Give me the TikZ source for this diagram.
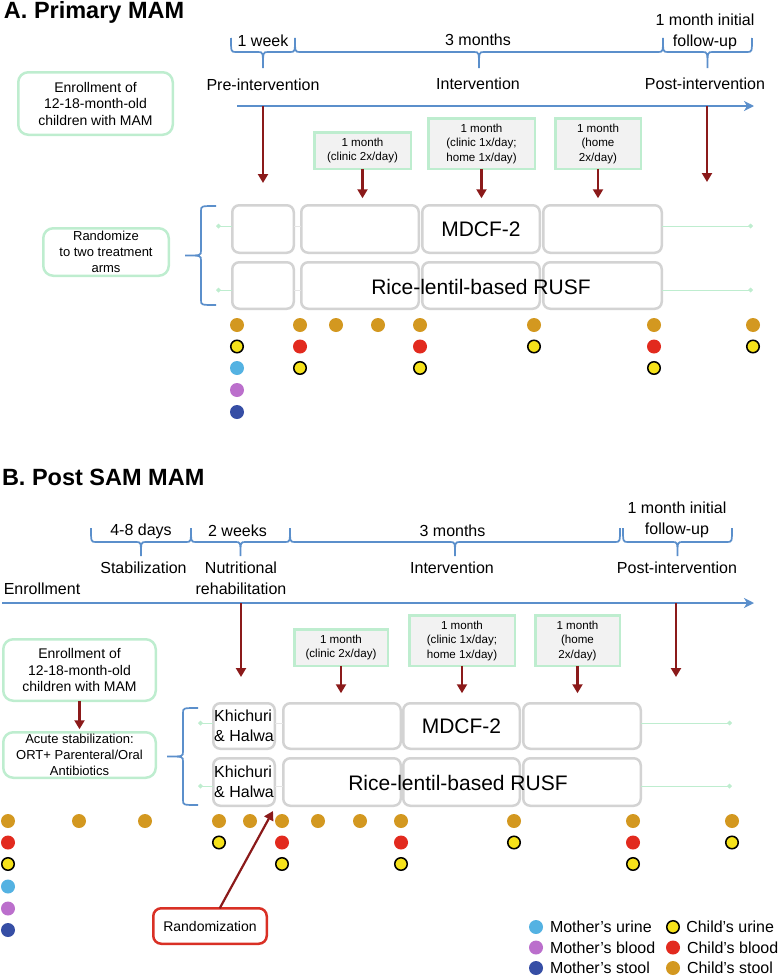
\documentclass[tikz,border=0pt]{standalone}
\usepackage{fontspec}
\setmainfont{Liberation Sans}
\usepackage{xcolor}
\usepackage{tikz}
\usetikzlibrary{shapes.geometric, arrows.meta, positioning}

\definecolor{lineblue}{RGB}{91,143,203}
\definecolor{darkred}{RGB}{139,26,26}
\definecolor{boxgreen}{RGB}{190,237,207}
\definecolor{boxgray}{RGB}{242,242,242}
\definecolor{armgray}{RGB}{211,211,211}
\definecolor{randred}{RGB}{217,48,37}
\definecolor{stoolgold}{RGB}{211,152,32}
\definecolor{bloodred}{RGB}{226,42,30}
\definecolor{urineyellow}{RGB}{246,226,26}
\definecolor{murineblue}{RGB}{84,178,226}
\definecolor{mbloodpurple}{RGB}{187,111,204}
\definecolor{mstoolblue}{RGB}{54,78,165}

% brace over a phase: left x, right x, top y, spike length
\newcommand{\timebrace}[4]{%
	\draw [phasebrace] (#1,#3) .. controls ({#1},{#3+14}) .. ({#1+5},{#3+14})
		-- ({(#1+#2)/2-5},{#3+14}) .. controls ({(#1+#2)/2},{#3+14}) .. ({(#1+#2)/2},{#3+14+#4})
		.. controls ({(#1+#2)/2},{#3+14}) .. ({(#1+#2)/2+5},{#3+14})
		-- ({#2-5},{#3+14}) .. controls ({#2},{#3+14}) .. (#2,#3);}
% brace left of the two arms: tip x, top y, bottom y, spike length
\newcommand{\armsbrace}[4]{%
	\draw [phasebrace] (#1,#2) .. controls ({#1-15},{#2}) .. ({#1-15},{#2+5})
		-- ({#1-15},{(#2+#3)/2-5}) .. controls ({#1-15},{(#2+#3)/2}) .. ({#1-15-#4},{(#2+#3)/2})
		.. controls ({#1-15},{(#2+#3)/2}) .. ({#1-15},{(#2+#3)/2+5})
		-- ({#1-15},{#3-5}) .. controls ({#1-15},{#3}) .. (#1,#3);}

\begin{document}
\begin{tikzpicture}[
			x=1pt, y=-1pt,
			every node/.style={inner sep=0pt, outer sep=0pt},
			sectiontitle/.style={anchor=base west, font=\fontsize{23.5}{28}\selectfont\bfseries},
			phase/.style={align=center, font=\fontsize{16}{21}\selectfont},
			infobox/.style={draw=boxgreen, line width=2.5pt, rounded corners=10pt, align=center, font=\fontsize{14}{16.5}\selectfont},
			monthbox/.style={draw=boxgreen, fill=boxgray, line width=2.5pt, align=center, font=\fontsize{11.6}{14.5}\selectfont},
			armbox/.style={draw=armgray, line width=2.5pt, rounded corners=7pt, font=\fontsize{21}{24}\selectfont},
			foodbox/.style={armbox, align=left, font=\fontsize{16}{20}\selectfont},
			armtext/.style={font=\fontsize{21}{24}\selectfont},
			randbox/.style={draw=randred, line width=2.5pt, rounded corners=8pt, font=\fontsize{14}{16}\selectfont},
			legendtext/.style={right=7pt of #1, anchor=west, font=\fontsize{16}{18}\selectfont},
			timeline/.style={draw=lineblue, line width=2.5pt, -{Stealth[length=10pt, width=10pt, inset=3pt]}},
			phasebrace/.style={draw=lineblue, line width=1.7pt},
			arrow/.style={draw=darkred, line width=2.2pt, -{Triangle[length=9pt, width=10pt]}},
			armline/.style={draw=boxgreen, line width=1pt, -{Diamond[length=5pt, width=5pt]}},
			gapline/.style={draw=armgray!60, line width=1pt},
			sampledot/.style={circle, minimum size=14pt},
			cstool/.style={sampledot, fill=stoolgold},
			cblood/.style={sampledot, fill=bloodred},
			curine/.style={sampledot, fill=urineyellow, draw=black, line width=1.5pt, minimum size=12.5pt},
			murine/.style={sampledot, fill=murineblue},
			mblood/.style={sampledot, fill=mbloodpurple},
			mstool/.style={sampledot, fill=mstoolblue}
			]
			\useasboundingbox (0,0) rectangle (780,977);
			
			% ---------------- A. Primary MAM ----------------
			% Nodes
			\node (titleA) [sectiontitle] at (4,18) {A. Primary MAM};
			\node (weekA) [phase] at (263,41) {1 week};
			\node (monthsA) [phase] at (478,40) {3 months};
			\node (followA) [phase] at (705,32) {1 month initial\\follow-up};
			\node (preA) [phase] at (263,84.5) {Pre-intervention};
			\node (interA) [phase] at (478,83.5) {Intervention};
			\node (postA) [phase] at (705,84) {Post-intervention};
			\node (enrollA) [infobox, minimum width=154.5, minimum height=62.5] at (95.5,103.5) {Enrollment of\\12-18-month-old\\children with MAM};
			\node (randomA) [infobox, minimum width=125.5, minimum height=47.5, font=\fontsize{13}{16}\selectfont] at (106,252) {Randomize\\to two treatment\\arms};
			\node (ma1) [monthbox, minimum width=96.5, minimum height=36.5] at (362.5,150.5) {1 month\\(clinic 2x/day)};
			\node (ma2) [monthbox, minimum width=106.5, minimum height=50.5] at (481.5,143.5) {1 month\\(clinic 1x/day;\\home 1x/day)};
			\node (ma3) [monthbox, minimum width=85.5, minimum height=50.5] at (598,143.5) {1 month\\(home\\2x/day)};
			\node (a11) [armbox, minimum width=61.5, minimum height=47.5] at (263,229) {};
			\node (a12) [armbox, minimum width=117.5, minimum height=47.5] at (360,229) {};
			\node (a13) [armbox, minimum width=117.5, minimum height=47.5] at (481,229) {MDCF-2};
			\node (a14) [armbox, minimum width=118.5, minimum height=47.5] at (602.5,229) {};
			\node (a21) [armbox, minimum width=61.5, minimum height=46.5] at (263,285.5) {};
			\node (a22) [armbox, minimum width=117.5, minimum height=46.5] at (360,285.5) {};
			\node (a23) [armbox, minimum width=117.5, minimum height=46.5] at (481,285.5) {};
			\node (a24) [armbox, minimum width=118.5, minimum height=46.5] at (602.5,285.5) {};
			\node (rusfA) [armtext] at (481,287) {Rice-lentil-based RUSF};
			\coordinate (tpreA) at (263,106);
			\coordinate (tpostA) at (707,106);
			\coordinate (la1) at (216,226);
			\coordinate (la2) at (216,290);
			\coordinate (ra1) at (753,226);
			\coordinate (ra2) at (753,290);
			
			% Samples
			\node (sa1) [cstool] at (237,325) {}; \node (sa2) [curine] at (237,346.5) {}; \node (sa3) [murine] at (237,368) {};
			\node (sa4) [mblood] at (237,390) {}; \node (sa5) [mstool] at (237,412) {};
			\node (sa6) [cstool] at (300,325) {}; \node (sa7) [cblood] at (300,346.5) {}; \node (sa8) [curine] at (300,368) {};
			\node (sa9) [cstool] at (336,325) {}; \node (sa10) [cstool] at (378,325) {};
			\node (sa11) [cstool] at (420,325) {}; \node (sa12) [cblood] at (420,346.5) {}; \node (sa13) [curine] at (420,368) {};
			\node (sa14) [cstool] at (534,325) {}; \node (sa15) [curine] at (534,346.5) {};
			\node (sa16) [cstool] at (654,325) {}; \node (sa17) [cblood] at (654,346.5) {}; \node (sa18) [curine] at (654,368) {};
			\node (sa19) [cstool] at (753,325) {}; \node (sa20) [curine] at (753,346.5) {};
			
			% Connections
			\timebrace{231}{295}{38}{16}
			\timebrace{295}{663}{38}{16}
			\timebrace{663}{752}{38}{16}
			\draw [timeline] (237,106) -- (754,106);
			\draw [arrow] (tpreA) -- (263,183);
			\draw [arrow] (tpostA) -- (707,182);
			\draw [arrow, shorten >=7pt] (ma1.south) -- (ma1.south |- a12.north);
			\draw [arrow, shorten >=7pt] (ma2.south) -- (ma2.south |- a13.north);
			\draw [arrow, shorten >=7pt] (ma3.south) -- (ma3.south |- a14.north);
			\armsbrace{216}{206}{305}{16}
			\draw [armline] (a11.west |- la1) -- (la1);
			\draw [armline] (a21.west |- la2) -- (la2);
			\draw [armline] (a14.east |- ra1) -- (ra1);
			\draw [armline] (a24.east |- ra2) -- (ra2);
			\draw [gapline] (a11.east |- la1) -- (a12.west |- la1);
			\draw [gapline] (a21.east |- la2) -- (a22.west |- la2);
			
			% ---------------- B. Post SAM MAM ----------------
			% Nodes
			\node (titleB) [sectiontitle] at (2,485) {B. Post SAM MAM};
			\node (daysB) [phase] at (141,531) {4-8 days};
			\node (weeksB) [phase] at (237.5,531) {2 weeks};
			\node (monthsB) [phase] at (452.5,531) {3 months};
			\node (followB) [phase] at (677,520) {1 month initial\\follow-up};
			\node (stabB) [phase] at (143.5,568) {Stabilization};
			\node (nutB) [phase] at (241,578) {Nutritional\\rehabilitation};
			\node (interB) [phase] at (452,568) {Intervention};
			\node (postB) [phase] at (677,568) {Post-intervention};
			\node (enrolB) [phase] at (42,589) {Enrollment};
			\node (enrollB) [infobox, minimum width=152.5, minimum height=61.5] at (79.5,670) {Enrollment of\\12-18-month-old\\children with MAM};
			\node (acuteB) [infobox, minimum width=152.5, minimum height=45.5, font=\fontsize{13}{16}\selectfont] at (79.5,755) {Acute stabilization:\\ORT+ Parenteral/Oral\\Antibiotics};
			\node (mb1) [monthbox, minimum width=93.5, minimum height=36.5] at (341,647.5) {1 month\\(clinic 2x/day)};
			\node (mb2) [monthbox, minimum width=105.5, minimum height=50.5] at (462,640.5) {1 month\\(clinic 1x/day;\\home 1x/day)};
			\node (mb3) [monthbox, minimum width=84.5, minimum height=50.5] at (577.5,640.5) {1 month\\(home\\2x/day)};
			\node (b11) [foodbox, minimum width=61.5, minimum height=45.5] at (244,726) {Khichuri\\\& Halwa};
			\node (b12) [armbox, minimum width=117.5, minimum height=45.5] at (342,726) {};
			\node (b13) [armbox, minimum width=116.5, minimum height=45.5] at (461.5,726) {MDCF-2};
			\node (b14) [armbox, minimum width=117.5, minimum height=45.5] at (582,726) {};
			\node (b21) [foodbox, minimum width=61.5, minimum height=47.5] at (244,782) {Khichuri\\\& Halwa};
			\node (b22) [armbox, minimum width=117.5, minimum height=47.5] at (342,782) {};
			\node (b23) [armbox, minimum width=116.5, minimum height=47.5] at (461.5,782) {};
			\node (b24) [armbox, minimum width=117.5, minimum height=47.5] at (582,782) {};
			\node (rusfB) [armtext] at (458,783) {Rice-lentil-based RUSF};
			\node (randB) [randbox, minimum width=113.5, minimum height=35.5] at (210,926) {Randomization};
			\coordinate (tnutB) at (241,603);
			\coordinate (tpostB) at (676,603);
			\coordinate (randtip) at (273,811);
			\coordinate (lb1) at (198,723);
			\coordinate (lb2) at (198,786);
			\coordinate (rb1) at (732,723);
			\coordinate (rb2) at (732,786);
			
			% Samples
			\node (sb1) [cstool] at (8,821) {}; \node (sb2) [cblood] at (8,842.5) {}; \node (sb3) [curine] at (8,864) {};
			\node (sb4) [murine] at (8,886.5) {}; \node (sb5) [mblood] at (8,908.5) {}; \node (sb6) [mstool] at (8,930) {};
			\node (sb7) [cstool] at (79,821) {}; \node (sb8) [cstool] at (145,821) {};
			\node (sb9) [cstool] at (219,821) {}; \node (sb10) [curine] at (219,842.5) {};
			\node (sb11) [cstool] at (250,821) {};
			\node (sb12) [cstool] at (282,821) {}; \node (sb13) [cblood] at (282,842.5) {}; \node (sb14) [curine] at (282,864) {};
			\node (sb15) [cstool] at (318,821) {}; \node (sb16) [cstool] at (360,821) {};
			\node (sb17) [cstool] at (401,821) {}; \node (sb18) [cblood] at (401,842.5) {}; \node (sb19) [curine] at (401,864) {};
			\node (sb20) [cstool] at (514,821) {}; \node (sb21) [curine] at (514,842.5) {};
			\node (sb22) [cstool] at (633,821) {}; \node (sb23) [cblood] at (633,842.5) {}; \node (sb24) [curine] at (633,864) {};
			\node (sb25) [cstool] at (732,821) {}; \node (sb26) [curine] at (732,842.5) {};
			
			% Legend
			\node (lg1) [murine] at (536,927) {};
			\node (lg2) [mblood] at (536,947.5) {};
			\node (lg3) [mstool] at (536,968) {};
			\node (lg4) [curine] at (673,927) {};
			\node (lg5) [cblood] at (673,947.5) {};
			\node (lg6) [cstool] at (673,968) {};
			\node (lgt1) [legendtext=lg1] {Mother's urine};
			\node (lgt2) [legendtext=lg2] {Mother's blood};
			\node (lgt3) [legendtext=lg3] {Mother's stool};
			\node (lgt4) [legendtext=lg4] {Child's urine};
			\node (lgt5) [legendtext=lg5] {Child's blood};
			\node (lgt6) [legendtext=lg6] {Child's stool};
			
			% Connections
			\timebrace{91}{191}{528}{14}
			\timebrace{191}{290}{528}{14}
			\timebrace{290}{620}{528}{14}
			\timebrace{623}{732}{528}{14}
			\draw [timeline] (2,603) -- (754,603);
			\draw [arrow] (tnutB) -- (241,677);
			\draw [arrow] (tpostB) -- (676,677);
			\draw [arrow, shorten >=10pt] (mb1.south) -- (mb1.south |- b12.north);
			\draw [arrow, shorten >=10pt] (mb2.south) -- (mb2.south |- b13.north);
			\draw [arrow, shorten >=10pt] (mb3.south) -- (mb3.south |- b14.north);
			\draw [arrow, shorten >=3pt] (enrollB) -- (acuteB);
			\draw [arrow] (randB) -- (randtip);
			\armsbrace{198}{708}{805}{16}
			\draw [armline] (b11.west |- lb1) -- (lb1);
			\draw [armline] (b21.west |- lb2) -- (lb2);
			\draw [armline] (b14.east |- rb1) -- (rb1);
			\draw [armline] (b24.east |- rb2) -- (rb2);
			\draw [gapline] (b11.east |- lb1) -- (b12.west |- lb1);
			\draw [gapline] (b21.east |- lb2) -- (b22.west |- lb2);
			
		\end{tikzpicture}
\end{document}
